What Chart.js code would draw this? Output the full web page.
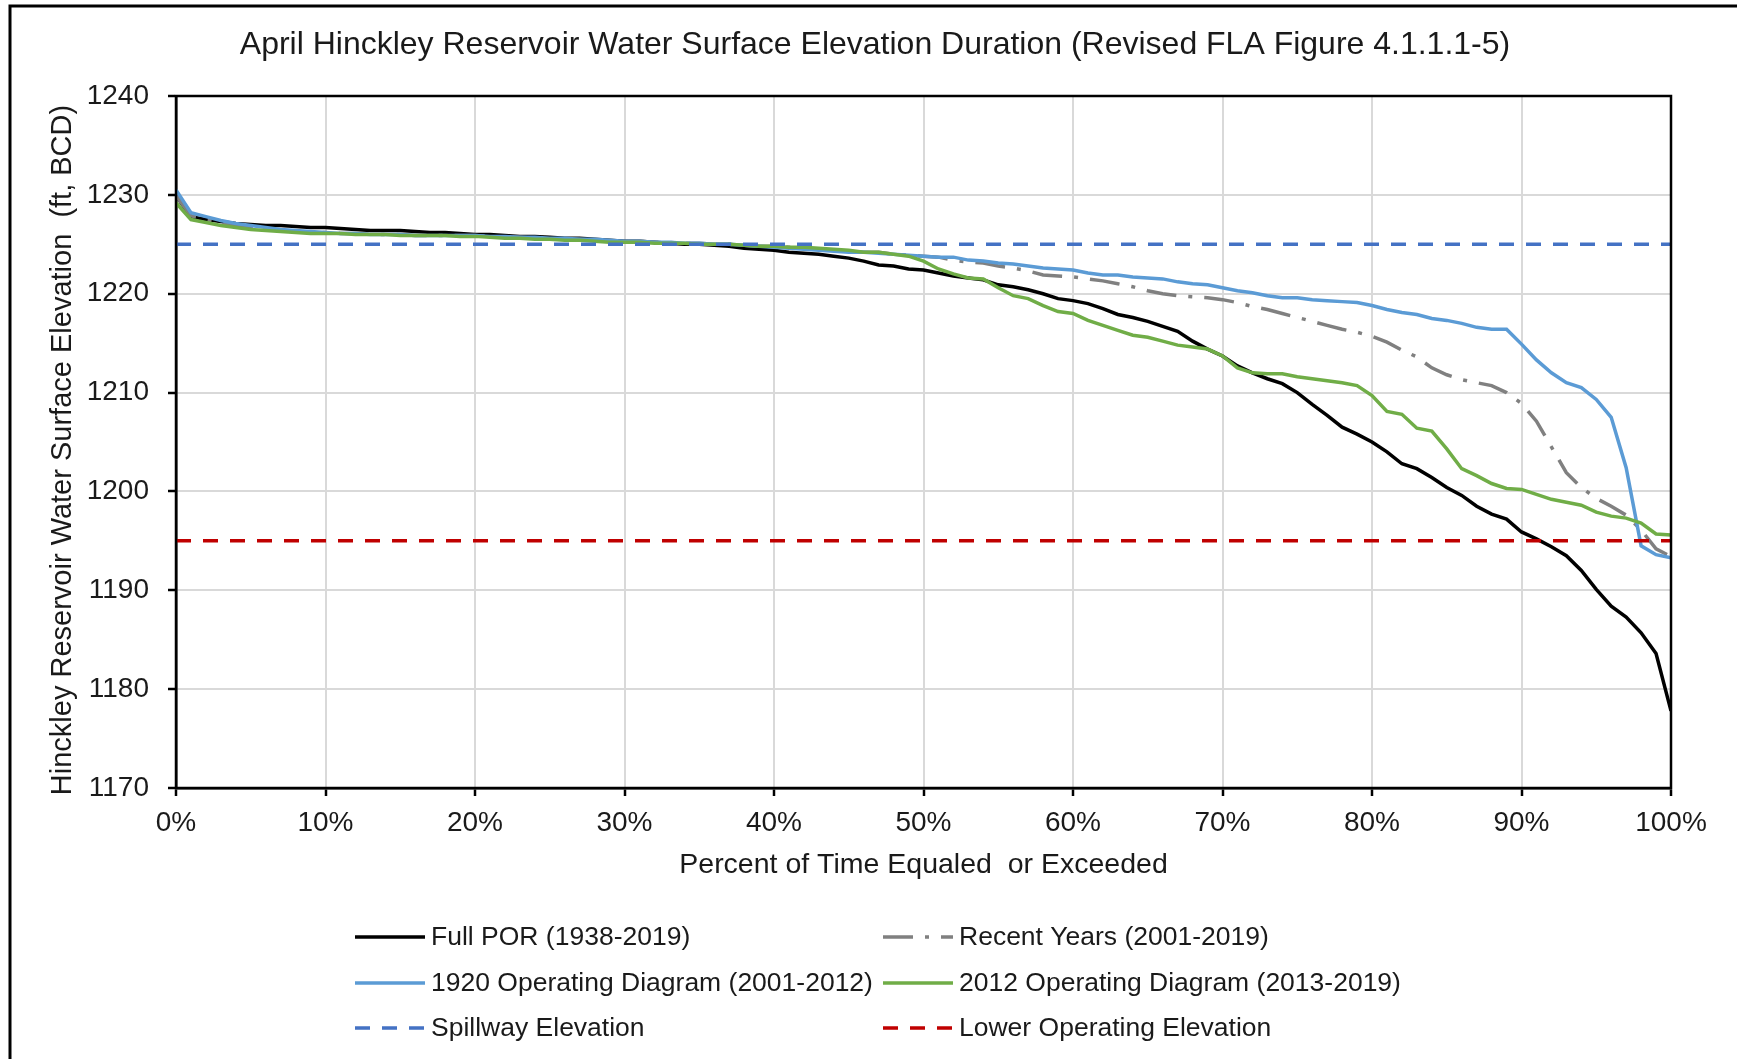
<!DOCTYPE html>
<html>
<head>
<meta charset="utf-8">
<script src="https://cdn.jsdelivr.net/npm/chart.js@4.4.1/dist/chart.umd.min.js"></script>
<style>
  html, body { margin: 0; padding: 0; background: #fff; }
  canvas { display: block; }
</style>
</head>
<body>
<canvas id="chart" width="1737" height="1059"></canvas>
<script>
// percent of time equaled or exceeded
const pct = [0,1,2,3,4,5,6,7,8,9,10,11,12,13,14,15,16,17,18,19,20,21,22,23,24,25,26,27,28,29,30,
  31,32,33,34,35,36,37,38,39,40,41,42,43,44,45,46,47,48,49,50,51,52,53,54,55,56,57,58,59,60,
  61,62,63,64,65,66,67,68,69,70,71,72,73,74,75,76,77,78,79,80,81,82,83,84,85,86,87,88,89,90,
  91,92,93,94,95,96,97,98,99,100];

const fullPOR = [1229.9,1227.8,1227.5,1227.3,1227.1,1227.0,1226.9,1226.9,1226.8,1226.7,1226.7,
  1226.6,1226.5,1226.4,1226.4,1226.4,1226.3,1226.2,1226.2,1226.1,1226.0,
  1226.0,1225.9,1225.8,1225.8,1225.7,1225.6,1225.6,1225.5,1225.4,1225.3,
  1225.3,1225.2,1225.1,1225.0,1225.0,1224.9,1224.8,1224.6,1224.5,1224.4,
  1224.2,1224.1,1224.0,1223.8,1223.6,1223.3,1222.9,1222.8,1222.5,1222.4,
  1222.1,1221.8,1221.6,1221.4,1220.9,1220.7,1220.4,1220.0,1219.5,1219.3,
  1219.0,1218.5,1217.9,1217.6,1217.2,1216.7,1216.2,1215.2,1214.4,1213.7,
  1212.7,1212.0,1211.4,1210.9,1210.0,1208.8,1207.7,1206.5,1205.8,1205.0,
  1204.0,1202.8,1202.3,1201.4,1200.4,1199.6,1198.5,1197.7,1197.2,1195.9,
  1195.2,1194.4,1193.5,1192.0,1190.1,1188.4,1187.3,1185.7,1183.6,1177.8];

const recentYears = [1229.9,1227.9,1227.5,1227.2,1226.9,1226.7,1226.6,1226.4,1226.3,1226.2,1226.2,
  1226.1,1226.1,1226.0,1226.0,1226.0,1225.9,1225.9,1225.9,1225.9,1225.9,
  1225.8,1225.7,1225.7,1225.6,1225.6,1225.5,1225.5,1225.4,1225.3,1225.3,
  1225.3,1225.2,1225.2,1225.1,1225.1,1225.0,1225.0,1224.9,1224.8,1224.8,
  1224.7,1224.6,1224.5,1224.4,1224.3,1224.2,1224.2,1224.0,1223.9,1223.8,
  1223.7,1223.4,1223.2,1223.1,1222.8,1222.6,1222.3,1221.9,1221.8,1221.7,
  1221.5,1221.3,1221.0,1220.7,1220.3,1220.0,1219.8,1219.7,1219.6,1219.4,
  1219.1,1218.7,1218.4,1218.0,1217.6,1217.2,1216.8,1216.4,1216.1,1215.7,
  1215.1,1214.3,1213.6,1212.5,1211.8,1211.3,1211.0,1210.7,1210.0,1208.9,
  1207.1,1204.5,1201.9,1200.4,1199.3,1198.5,1197.6,1196.1,1194.2,1193.4];

const diagram1920 = [1230.5,1228.2,1227.8,1227.4,1227.1,1226.9,1226.7,1226.5,1226.4,1226.3,1226.2,
  1226.1,1226.1,1226.0,1226.0,1226.0,1225.9,1225.9,1225.9,1225.9,1225.9,
  1225.8,1225.8,1225.7,1225.7,1225.6,1225.6,1225.5,1225.5,1225.4,1225.3,
  1225.3,1225.2,1225.2,1225.1,1225.1,1225.0,1225.0,1224.9,1224.8,1224.7,
  1224.6,1224.5,1224.4,1224.3,1224.2,1224.2,1224.1,1224.0,1223.9,1223.8,
  1223.7,1223.7,1223.4,1223.3,1223.1,1223.0,1222.8,1222.6,1222.5,1222.4,
  1222.1,1221.9,1221.9,1221.7,1221.6,1221.5,1221.2,1221.0,1220.9,1220.6,
  1220.3,1220.1,1219.8,1219.6,1219.6,1219.4,1219.3,1219.2,1219.1,1218.8,
  1218.4,1218.1,1217.9,1217.5,1217.3,1217.0,1216.6,1216.4,1216.4,1214.9,
  1213.3,1212.0,1211.0,1210.5,1209.3,1207.5,1202.4,1194.5,1193.6,1193.3];

const diagram2012 = [1229.2,1227.5,1227.2,1226.9,1226.7,1226.5,1226.4,1226.3,1226.2,1226.1,1226.1,
  1226.1,1226.0,1226.0,1226.0,1225.9,1225.9,1225.9,1225.9,1225.8,1225.8,
  1225.7,1225.6,1225.6,1225.5,1225.5,1225.4,1225.4,1225.3,1225.2,1225.2,
  1225.2,1225.1,1225.1,1225.1,1225.0,1225.0,1225.0,1224.9,1224.8,1224.8,
  1224.7,1224.7,1224.6,1224.5,1224.4,1224.2,1224.2,1224.0,1223.8,1223.3,
  1222.5,1222.0,1221.6,1221.5,1220.6,1219.8,1219.5,1218.8,1218.2,1218.0,
  1217.3,1216.8,1216.3,1215.8,1215.6,1215.2,1214.8,1214.6,1214.4,1213.7,
  1212.5,1212.0,1211.9,1211.9,1211.6,1211.4,1211.2,1211.0,1210.7,1209.7,
  1208.1,1207.8,1206.4,1206.1,1204.3,1202.3,1201.6,1200.8,1200.3,1200.2,
  1199.7,1199.2,1198.9,1198.6,1197.9,1197.5,1197.3,1196.8,1195.7,1195.6];

const spillwayX = [0, 100];
const spillway = [1225, 1225];
const lowerOpX = [0, 100];
const lowerOp = [1195, 1195];

const yTicks = [1170, 1180, 1190, 1200, 1210, 1220, 1230, 1240];

const chartTitle = 'April Hinckley Reservoir Water Surface Elevation Duration (Revised FLA Figure 4.1.1.1-5)';
const yTitle = 'Hinckley Reservoir Water Surface Elevation  (ft, BCD)';
const xTitle = 'Percent of Time Equaled  or Exceeded';

const FONT = "'Liberation Sans', Arial, sans-serif";
const TEXT = '#1a1a1a';

function points(xs, ys) {
    return ys.map((y, i) => ({ x: xs[i], y: y }));
}

// titles, two-column legend and the black frames
const framePlugin = {
    id: 'framePlugin',
    afterDraw(chart) {
        const { ctx, chartArea } = chart;
        ctx.save();
        ctx.strokeStyle = '#000';
        ctx.lineWidth = 2.5;
        ctx.setLineDash([]);
        ctx.strokeRect(chartArea.left, chartArea.top,
            chartArea.right - chartArea.left, chartArea.bottom - chartArea.top);

        // outer picture border (top and left only)
        ctx.lineWidth = 3;
        ctx.beginPath();
        ctx.moveTo(10, chart.height);
        ctx.lineTo(10, 6);
        ctx.lineTo(chart.width, 6);
        ctx.stroke();

        ctx.fillStyle = TEXT;
        ctx.textAlign = 'center';
        ctx.textBaseline = 'middle';
        ctx.font = `32px ${FONT}`;
        ctx.fillText(chartTitle, 875, 45);

        ctx.font = `29px ${FONT}`;
        ctx.save();
        ctx.translate(63, 450);
        ctx.rotate(-Math.PI / 2);
        ctx.fillText(yTitle, 0, 0);
        ctx.restore();

        const colX = [355, 883];
        const rowY = [937, 983, 1028];
        ctx.font = `26.5px ${FONT}`;
        ctx.textAlign = 'left';
        chart.data.datasets.forEach((ds, i) => {
            const x = colX[i % 2];
            const y = rowY[Math.floor(i / 2)];
            ctx.strokeStyle = ds.borderColor;
            ctx.lineWidth = ds.borderWidth;
            ctx.lineCap = 'butt';
            ctx.setLineDash(ds.borderDash || []);
            ctx.beginPath();
            ctx.moveTo(x, y);
            ctx.lineTo(x + 70, y);
            ctx.stroke();
            ctx.setLineDash([]);
            ctx.fillText(ds.label, x + 76, y + 1);
        });
        ctx.restore();
    }
};

const ctx = document.getElementById('chart').getContext('2d');
new Chart(ctx, {
    type: 'line',
    data: {
        datasets: [
            { label: 'Full POR (1938-2019)', data: points(pct, fullPOR),
              borderColor: '#000000', borderWidth: 3.5, order: 6 },
            { label: 'Recent Years (2001-2019)', data: points(pct, recentYears),
              borderColor: '#808080', borderWidth: 3.5, borderDash: [30, 12, 4, 12], order: 5 },
            { label: '1920 Operating Diagram (2001-2012)', data: points(pct, diagram1920),
              borderColor: '#5B9BD5', borderWidth: 3.5, order: 4 },
            { label: '2012 Operating Diagram (2013-2019)', data: points(pct, diagram2012),
              borderColor: '#70AD47', borderWidth: 3.5, order: 3 },
            { label: 'Spillway Elevation', data: points(spillwayX, spillway),
              borderColor: '#4472C4', borderWidth: 3.5, borderDash: [15, 12], order: 2 },
            { label: 'Lower Operating Elevation', data: points(lowerOpX, lowerOp),
              borderColor: '#C00000', borderWidth: 3.5, borderDash: [15, 12], order: 1 }
        ]
    },
    options: {
        responsive: false,
        animation: false,
        devicePixelRatio: 1,
        layout: { padding: { left: 0, right: 66, top: 96, bottom: 171 } },
        elements: {
            point: { radius: 0, hoverRadius: 0 },
            line: { tension: 0, fill: false, borderCapStyle: 'butt' }
        },
        plugins: {
            legend: { display: false },
            tooltip: { enabled: false },
            title: { display: false }
        },
        scales: {
            x: {
                type: 'linear',
                min: 0,
                max: 100,
                afterFit: s => { s.height = 100; },
                ticks: {
                    stepSize: 10,
                    color: TEXT,
                    padding: 10,
                    maxRotation: 0,
                    font: { family: FONT, size: 28, lineHeight: 1.2 },
                    callback: v => v + '%'
                },
                grid: { color: '#D9D9D9', lineWidth: 2, tickColor: '#000', tickLength: 8, tickWidth: 2.5 },
                border: { color: '#000', width: 2.5 },
                title: {
                    display: true,
                    text: xTitle,
                    color: TEXT,
                    font: { family: FONT, size: 28.5, lineHeight: 1.2 },
                    padding: { top: 0, bottom: 6 }
                }
            },
            y: {
                min: yTicks[0],
                max: yTicks[yTicks.length - 1],
                afterFit: s => { s.width = 176; },
                afterBuildTicks: s => { s.ticks = yTicks.map(v => ({ value: v })); },
                ticks: {
                    color: TEXT,
                    padding: 19,
                    font: { family: FONT, size: 28, lineHeight: 1.2 },
                    callback: v => String(v)
                },
                grid: { color: '#D9D9D9', lineWidth: 2, tickColor: '#000', tickLength: 8, tickWidth: 2.5 },
                border: { color: '#000', width: 2.5 }
            }
        }
    },
    plugins: [framePlugin]
});
</script>
</body>
</html>
